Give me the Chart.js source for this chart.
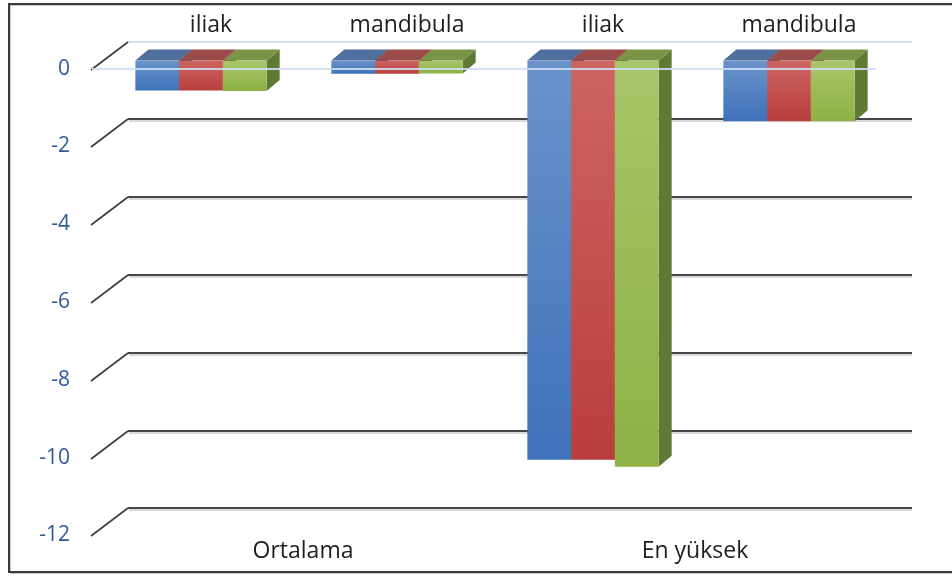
<!DOCTYPE html>
<html>
<head>
<meta charset="utf-8">
<script src="https://cdn.jsdelivr.net/npm/chart.js@4.4.1/dist/chart.umd.min.js"></script>
<style>
  html, body { margin: 0; padding: 0; background: #fff; }
</style>
</head>
<body>
<canvas id="grafik" width="952" height="577"></canvas>
<script>
// categories (top row per bar group, bottom row per block)
const altKategoriler = ['iliak', 'mandibula', 'iliak', 'mandibula'];
const anaKategoriler = ['Ortalama', 'En yüksek'];

// three series, one value per bar group
const seriMavi = [-0.77, -0.34, -10.26, -1.56];
const seriKirmizi = [-0.77, -0.34, -10.26, -1.56];
const seriYesil = [-0.78, -0.33, -10.44, -1.56];

// y axis ticks
const yTikleri = [0, -2, -4, -6, -8, -10, -12];

// 3d offsets
const DUVAR = { x: 36, y: -27 };   // back wall relative to front plane
const KAYMA = { x: 11, y: -8 };    // bar row sits a bit behind the front plane
const DERIN = { x: 13, y: -11 };   // depth of each bar

const renkler = [
    { ust: '#6b93cb', alt: '#3e72b9', kapak: '#4f6f9d', yan: '#3b5c8c' },
    { ust: '#cd6562', alt: '#b93e3c', kapak: '#9a4b49', yan: '#8a3432' },
    { ust: '#a8c66a', alt: '#8db145', kapak: '#7a9446', yan: '#5f7a34' }
];

function dolgu(r) {
    return (c) => {
        const y = c.chart.scales.y;
        if (!y || c.type !== 'data') return r.alt;
        const y0 = y.getPixelForValue(0);
        const y1 = y.getPixelForValue(c.raw);
        if (!isFinite(y0) || !isFinite(y1) || y1 - y0 < 1) return r.alt;
        const g = c.chart.ctx.createLinearGradient(0, y0, 0, y1);
        g.addColorStop(0, r.ust);
        g.addColorStop(1, r.alt);
        return g;
    };
}

function cokgen(ctx, pts) {
    ctx.beginPath();
    ctx.moveTo(pts[0][0], pts[0][1]);
    for (let i = 1; i < pts.length; i++) ctx.lineTo(pts[i][0], pts[i][1]);
    ctx.closePath();
    ctx.fill();
}

function cubuklar(chart, fn) {
    chart.data.datasets.forEach((ds, i) => {
        chart.getDatasetMeta(i).data.forEach(bar => {
            const p = bar.getProps(['x', 'y', 'base', 'width'], true);
            fn(p, renkler[i]);
        });
    });
}

const ucBoyut = {
    id: 'ucBoyut',
    beforeDraw(chart) {
        const ctx = chart.ctx;
        ctx.save();
        // outer frame
        ctx.strokeStyle = '#c8c8c8';
        ctx.lineWidth = 1;
        ctx.strokeRect(10.5, 5.5, 960, 568);
        ctx.strokeStyle = '#3a3a3a';
        ctx.lineWidth = 2;
        ctx.strokeRect(9, 4, 960, 568);
        ctx.restore();
    },
    beforeDatasetsDraw(chart) {
        const { ctx, chartArea: a, scales: { y } } = chart;
        ctx.save();
        // back wall grid with the slanted side wall stubs
        yTikleri.forEach(v => {
            const yf = Math.round(y.getPixelForValue(v));
            const yb = yf + DUVAR.y;
            const xb = a.left + DUVAR.x;
            if (v === 0) {
                ctx.strokeStyle = '#d3e0f0';
                ctx.lineWidth = 2;
                ctx.beginPath();
                ctx.moveTo(xb, yb);
                ctx.lineTo(a.right + DUVAR.x, yb);
                ctx.stroke();
            } else {
                ctx.strokeStyle = '#b4b4b4';
                ctx.lineWidth = 1;
                ctx.beginPath();
                ctx.moveTo(xb + 1, yb + 2);
                ctx.lineTo(a.right + DUVAR.x, yb + 2);
                ctx.stroke();
                ctx.strokeStyle = '#474747';
                ctx.lineWidth = 2;
                ctx.beginPath();
                ctx.moveTo(xb, yb);
                ctx.lineTo(a.right + DUVAR.x, yb);
                ctx.stroke();
            }
            ctx.strokeStyle = '#3c3c3c';
            ctx.lineWidth = 1.6;
            ctx.beginPath();
            ctx.moveTo(a.left - 1, yf + 1);
            ctx.lineTo(xb, yb);
            ctx.stroke();
        });
        ctx.restore();

        // bars are drawn one step behind the front plane
        ctx.save();
        ctx.translate(KAYMA.x, KAYMA.y);
        // right side faces (the inner ones end up under the next bar)
        cubuklar(chart, (p, r) => {
            const xr = p.x + p.width / 2;
            ctx.fillStyle = r.yan;
            cokgen(ctx, [[xr, p.base], [xr + DERIN.x, p.base + DERIN.y],
                         [xr + DERIN.x, p.y + DERIN.y], [xr, p.y]]);
        });
    },
    afterDatasetsDraw(chart) {
        const { ctx, chartArea: a, scales: { y } } = chart;
        // top faces
        cubuklar(chart, (p, r) => {
            const xl = p.x - p.width / 2, xr = p.x + p.width / 2;
            ctx.fillStyle = r.kapak;
            cokgen(ctx, [[xl, p.base], [xr, p.base],
                         [xr + DERIN.x, p.base + DERIN.y], [xl + DERIN.x, p.base + DERIN.y]]);
        });
        ctx.restore();

        // zero line on the front edge of the floor
        const y0 = Math.round(y.getPixelForValue(0));
        ctx.save();
        ctx.strokeStyle = 'rgba(205, 222, 243, 0.9)';
        ctx.lineWidth = 2;
        ctx.beginPath();
        ctx.moveTo(a.left, y0);
        ctx.lineTo(a.right, y0);
        ctx.stroke();
        ctx.restore();
    }
};

const yaziTipi = "'Open Sans', 'DejaVu Sans', sans-serif";

new Chart(document.getElementById('grafik'), {
    type: 'bar',
    data: {
        labels: altKategoriler,
        datasets: [
            { label: 'Seri 1', data: seriMavi, backgroundColor: dolgu(renkler[0]) },
            { label: 'Seri 2', data: seriKirmizi, backgroundColor: dolgu(renkler[1]) },
            { label: 'Seri 3', data: seriYesil, backgroundColor: dolgu(renkler[2]) }
        ]
    },
    options: {
        responsive: false,
        animation: false,
        layout: { padding: { left: 10, right: 76, top: -17, bottom: 10 } },
        datasets: {
            bar: { categoryPercentage: 0.67, barPercentage: 1, borderWidth: 0 }
        },
        plugins: {
            legend: { display: false },
            tooltip: { enabled: false }
        },
        scales: {
            x: {
                position: 'top',
                grid: { display: false, drawTicks: false },
                border: { display: false },
                ticks: {
                    autoSkip: false,
                    maxRotation: 0,
                    padding: 29,
                    labelOffset: 21,
                    color: '#1e1e1e',
                    font: { family: yaziTipi, size: 23 }
                }
            },
            x2: {
                type: 'category',
                position: 'bottom',
                labels: anaKategoriler,
                grid: { display: false, drawTicks: false },
                border: { display: false },
                ticks: {
                    autoSkip: false,
                    maxRotation: 0,
                    padding: 2,
                    labelOffset: 15,
                    color: '#1e1e1e',
                    font: { family: yaziTipi, size: 23 }
                }
            },
            y: {
                min: -12,
                max: 0,
                afterFit(s) { s.width = 82; },
                afterBuildTicks(s) { s.ticks = yTikleri.map(v => ({ value: v })); },
                grid: { display: false, drawTicks: false },
                border: { display: false },
                ticks: {
                    padding: 22,
                    color: '#2e5a9a',
                    font: { family: yaziTipi, size: 21 }
                }
            }
        }
    },
    plugins: [ucBoyut]
});
</script>
</body>
</html>
